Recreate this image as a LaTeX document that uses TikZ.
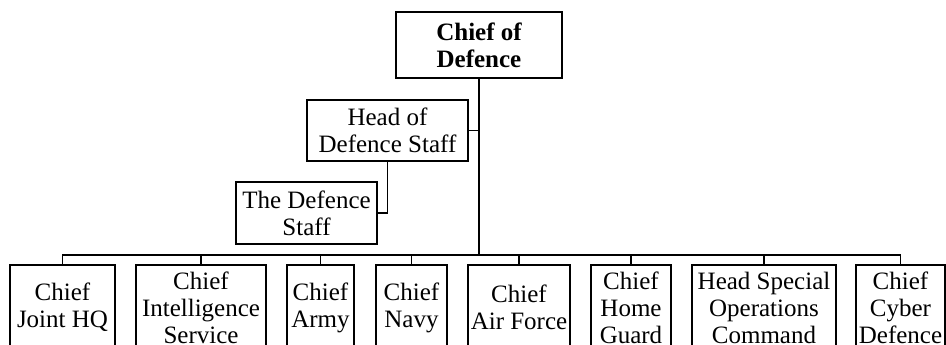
\documentclass[tikz,border=0pt]{standalone}
\usepackage{fontspec}
\setmainfont{Liberation Serif}
\begin{document}
\begin{tikzpicture}[x=1pt,y=-1pt,
  every node/.style={font=\fontsize{25}{27}\selectfont},
  orgbox/.style={draw, line width=1.5pt, rectangle, inner sep=0pt, align=center},
  link/.style={line width=1.5pt},
  leaf/.style={orgbox, minimum height=85pt}]
  \clip (0,0) rectangle (946,345);
  \useasboundingbox (0,0) rectangle (946,345);

  % upper part of the chart
  \node[orgbox, minimum width=166pt, minimum height=66pt, font=\fontsize{25}{27}\selectfont\bfseries]
    (cod) at (479,45) {Chief of\\Defence};
  \node[orgbox, minimum width=161pt, minimum height=61pt] (hds) at (387.5,130.5) {Head of\\Defence Staff};
  \node[orgbox, minimum width=141pt, minimum height=62pt] (tds) at (306.5,213) {The Defence\\Staff};

  % lower row
  \node[leaf, minimum width=105pt] (jhq) at (62.5,307.5) {Chief\\Joint HQ};
  \node[leaf, minimum width=130pt] (cis) at (201,307.5) {Chief\\Intelligence\\Service};
  \node[leaf, minimum width=67pt] (army) at (320.5,307.5) {Chief\\Army};
  \node[leaf, minimum width=71pt] (navy) at (411.5,307.5) {Chief\\Navy};
  \node[leaf, minimum width=102pt] (af) at (519,307.5) {Chief\\Air Force};
  \node[leaf, minimum width=80pt] (hg) at (631,307.5) {Chief\\Home\\Guard};
  \node[leaf, minimum width=144pt] (sso) at (764,307.5) {Head Special\\Operations\\Command};
  \node[leaf, minimum width=89pt] (cyb) at (900.5,307.5) {Chief\\Cyber\\Defence};

  \coordinate (bus) at (479,255);

  % connectors
  \draw[link] (cod.south) -- (bus);
  \draw[link] (hds.east) -- (hds.east -| cod.south);
  \draw[link] (hds.south) |- (tds.east);
  \draw[link] (jhq.north) |- (bus) -| (cyb.north);
  \foreach \n in {cis,army,navy,af,hg,sso}
    \draw[link] (\n.north) -- (\n.north |- bus);
\end{tikzpicture}
\end{document}
